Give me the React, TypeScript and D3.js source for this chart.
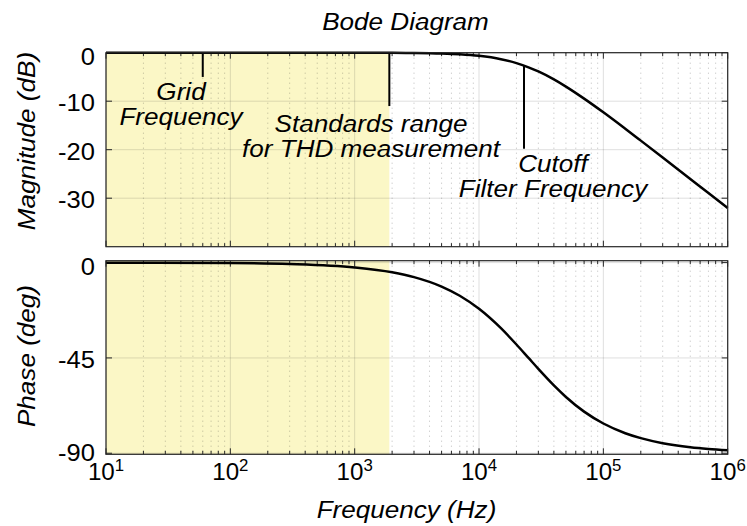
import React from "react";
import * as d3 from "d3";

// ---- data ----
const freqHz = [10, 100, 300, 1000, 2000, 3000, 5000, 7000, 10000, 15000, 20000, 25000, 30000, 40000, 50000, 70000, 100000, 150000, 200000, 300000, 500000, 700000, 1000000];
const magnitudeDb = [0, 0, 0, -0.01, -0.03, -0.06, -0.17, -0.33, -0.65, -1.34, -2.15, -3.01, -3.87, -5.51, -6.99, -9.47, -12.3, -15.68, -18.13, -21.61, -26.03, -28.95, -32.04];
const phaseDeg = [-0.02, -0.23, -0.69, -2.29, -4.57, -6.84, -11.31, -15.64, -21.8, -30.96, -38.66, -45, -50.19, -57.99, -63.43, -70.35, -75.96, -80.54, -82.87, -85.24, -87.14, -87.95, -88.57];

const xTickExponents = [1, 2, 3, 4, 5, 6];
const magTicks = [0, -10, -20, -30];
const phaseTicks = [0, -45, -90];

const shadedRangeHz = [10, 1900];

const annotationFreqHz = [60, 1900, 23000];
const annotationTopDb = [0, 0, -2.68];
const annotationBottomDb = [-5, -11, -19.8];
const annotationLines = [
  ["Grid", "Frequency"],
  ["Standards range", "for THD measurement"],
  ["Cutoff", "Filter Frequency"],
];
const annotationCenterX = [181, 371, 553];
const annotationBaseY = [100, 132, 171.7];

const titleText = "Bode Diagram";
const magLabel = "Magnitude (dB)";
const phaseLabel = "Phase (deg)";
const freqLabel = "Frequency (Hz)";

// ---- layout ----
const W = 747;
const H = 526;
const X0 = 106;
const X1 = 727.7;
const MAG_TOP = 52.7;
const MAG_BOT = 246.7;
const PH_TOP = 260.7;
const PH_BOT = 454.3;

const FONT = "'Liberation Sans', Arial, Helvetica, sans-serif";
const SX = 1.11;
const AX = "#262626";

function T(props: {
  x: number;
  y: number;
  anchor?: string;
  size: number;
  italic?: boolean;
  rotate?: number;
  sx?: number;
  children: React.ReactNode;
}) {
  const { x, y, anchor = "middle", size, italic, rotate, sx = SX, children } = props;
  return (
    <text
      transform={`translate(${x},${y})${rotate ? ` rotate(${rotate})` : ""} scale(${sx},1)`}
      textAnchor={anchor}
      fontSize={size}
      fontStyle={italic ? "italic" : "normal"}
      fontFamily={FONT}
      fill="#000"
    >
      {children}
    </text>
  );
}

export default function App() {
  const x = d3.scaleLog().domain([10, 1e6]).range([X0, X1]);
  const yMag = d3.scaleLinear().domain([0, -40]).range([MAG_TOP, MAG_BOT]);
  const yPh = d3.scaleLinear().domain([0.9, -90.5]).range([PH_TOP, PH_BOT]);

  const minorFreqs: number[] = [];
  for (let e = 1; e < 6; e++) for (let m = 2; m <= 9; m++) minorFreqs.push(m * Math.pow(10, e));
  const majorFreqs = xTickExponents.map((e) => Math.pow(10, e));

  const magLine = d3
    .line<number>()
    .x((_, i) => x(freqHz[i]))
    .y((d) => yMag(d))
    .curve(d3.curveMonotoneX)(magnitudeDb) as string;
  const phLine = d3
    .line<number>()
    .x((_, i) => x(freqHz[i]))
    .y((d) => yPh(d))
    .curve(d3.curveMonotoneX)(phaseDeg) as string;

  const panel = (
    top: number,
    bot: number,
    yTicks: number[],
    ys: (v: number) => number,
    key: string
  ) => (
    <g key={key}>
      <rect
        x={x(shadedRangeHz[0])}
        y={top}
        width={x(shadedRangeHz[1]) - x(shadedRangeHz[0])}
        height={bot - top}
        fill="#fbf7c6"
      />
      {minorFreqs.map((f, i) => (
        <line
          key={"mg" + i}
          x1={x(f)}
          x2={x(f)}
          y1={top}
          y2={bot}
          stroke={AX}
          strokeOpacity={0.3}
          strokeWidth={1}
          strokeDasharray="1 4"
        />
      ))}
      {majorFreqs.map((f, i) => (
        <line key={"Mg" + i} x1={x(f)} x2={x(f)} y1={top} y2={bot} stroke={AX} strokeOpacity={0.15} strokeWidth={1} />
      ))}
      {yTicks.map((t, i) => (
        <line key={"yg" + i} x1={X0} x2={X1} y1={ys(t)} y2={ys(t)} stroke={AX} strokeOpacity={0.15} strokeWidth={1} />
      ))}
      {minorFreqs.map((f, i) => (
        <g key={"mt" + i}>
          <line x1={x(f)} x2={x(f)} y1={bot} y2={bot - 3.5} stroke={AX} strokeWidth={1} />
          <line x1={x(f)} x2={x(f)} y1={top} y2={top + 3.5} stroke={AX} strokeWidth={1} />
        </g>
      ))}
      {majorFreqs.map((f, i) => (
        <g key={"Mt" + i}>
          <line x1={x(f)} x2={x(f)} y1={bot} y2={bot - 6} stroke={AX} strokeWidth={1} />
          <line x1={x(f)} x2={x(f)} y1={top} y2={top + 6} stroke={AX} strokeWidth={1} />
        </g>
      ))}
      {yTicks.map((t, i) => (
        <g key={"yt" + i}>
          <line x1={X0} x2={X0 + 6} y1={ys(t)} y2={ys(t)} stroke={AX} strokeWidth={1} />
          <line x1={X1} x2={X1 - 6} y1={ys(t)} y2={ys(t)} stroke={AX} strokeWidth={1} />
        </g>
      ))}
    </g>
  );

  return (
    <svg
      width={W}
      height={H}
      viewBox={`0 0 ${W} ${H}`}
      style={{ position: "fixed", left: 0, top: 0, background: "#fff" }}
    >
      <rect x={0} y={0} width={W} height={H} fill="#fff" />
      {panel(MAG_TOP, MAG_BOT, magTicks, yMag, "mag")}
      {panel(PH_TOP, PH_BOT, phaseTicks, yPh, "ph")}

      {/* annotation lines */}
      {annotationFreqHz.map((f, i) => (
        <line
          key={"al" + i}
          x1={x(f)}
          x2={x(f)}
          y1={yMag(annotationTopDb[i])}
          y2={yMag(annotationBottomDb[i])}
          stroke="#000"
          strokeWidth={2}
        />
      ))}
      {annotationLines.map((lines, i) =>
        lines.map((s, j) => (
          <T key={"at" + i + j} x={annotationCenterX[i]} y={annotationBaseY[i] + j * 25} size={23.5} italic>
            {s}
          </T>
        ))
      )}

      {/* curves */}
      <path d={magLine} fill="none" stroke="#000" strokeWidth={2.5} />
      <path d={phLine} fill="none" stroke="#000" strokeWidth={2.5} />

      {/* borders */}
      <rect x={X0} y={MAG_TOP} width={X1 - X0} height={MAG_BOT - MAG_TOP} fill="none" stroke={AX} strokeWidth={1.2} />
      <rect x={X0} y={PH_TOP} width={X1 - X0} height={PH_BOT - PH_TOP} fill="none" stroke={AX} strokeWidth={1.2} />

      {/* y tick labels */}
      {magTicks.map((t, i) => (
        <T key={"ml" + i} x={95} y={yMag(t) + (t === 0 ? 12 : 10)} anchor="end" size={23}>
          {String(t)}
        </T>
      ))}
      {phaseTicks.map((t, i) => (
        <T key={"pl" + i} x={95} y={yPh(t) + (t === -90 ? 7.5 : t === 0 ? 12 : 10)} anchor="end" size={23}>
          {String(t)}
        </T>
      ))}

      {/* x tick labels */}
      {xTickExponents.map((e, i) => (
        <text
          key={"xl" + i}
          transform={`translate(${x(Math.pow(10, e))},${479.5}) scale(1.05,1)`}
          textAnchor="middle"
          fontSize={23}
          fontFamily={FONT}
          fill="#000"
        >
          <tspan>10</tspan>
          <tspan dy={-9} fontSize={16}>
            {String(e)}
          </tspan>
        </text>
      ))}

      {/* titles */}
      <T x={405.5} y={30} size={23.5} italic>
        {titleText}
      </T>
      <T x={35} y={141} size={23.5} italic rotate={-90}>
        {magLabel}
      </T>
      <T x={35} y={356} size={23.5} italic rotate={-90}>
        {phaseLabel}
      </T>
      <T x={406.5} y={518} size={23.5} italic>
        {freqLabel}
      </T>
    </svg>
  );
}
